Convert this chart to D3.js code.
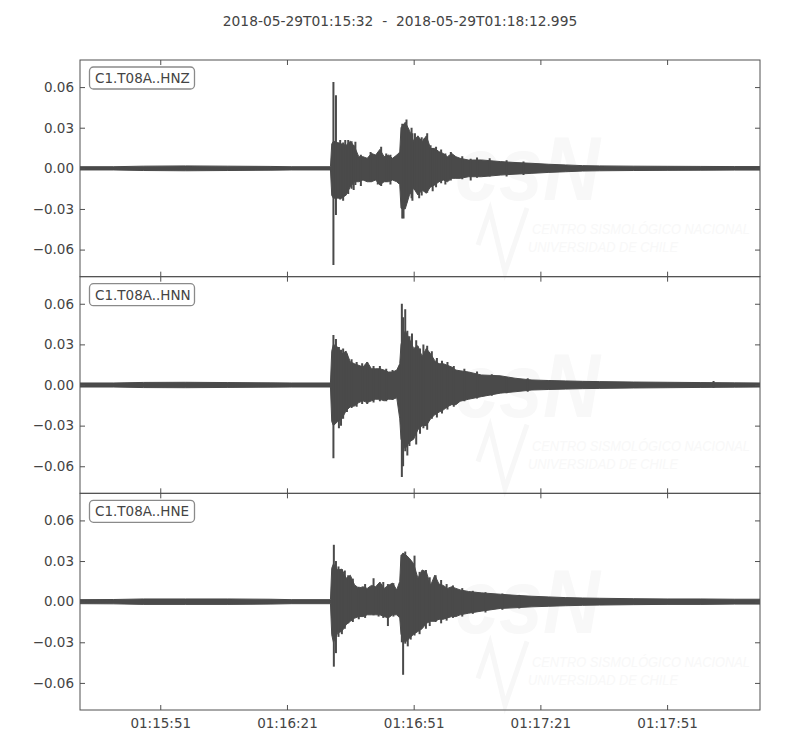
<!DOCTYPE html>
<html><head><meta charset="utf-8">
<script src="https://cdn.jsdelivr.net/npm/d3@7"></script>
<style>body{margin:0;background:#fff} svg{display:block} text{font-family:"DejaVu Sans",sans-serif}</style>
</head><body><svg id="c" width="800" height="750"></svg>
<script>
// ---------------- data ----------------
const titleText = "2018-05-29T01:15:32  -  2018-05-29T01:18:12.995";
const startClock = "01:15:32";
const durationSec = 160.995;
const channels = ["C1.T08A..HNZ", "C1.T08A..HNN", "C1.T08A..HNE"];
const yTicks = [-0.06, -0.03, 0, 0.03, 0.06];
const xTickLabels = ["01:15:51", "01:16:21", "01:16:51", "01:17:21", "01:17:51"];

// seconds after start (envelope sample times)
const times = [0, 8, 15, 25, 35, 45, 50,
  59.3, 59.6,
  60, 61, 62, 63, 64, 65, 66, 67, 68, 69, 70, 71, 72, 73, 74, 75,
  75.7,
  76, 77, 78, 79, 80, 81, 82, 83, 84, 85, 86, 87, 88, 89, 90,
  92, 95, 99.5, 103, 107, 111, 115, 119, 123,
  131, 139, 147, 155, 161];

const hnzUpper = [0.0012, 0.0012, 0.0016, 0.0018, 0.0016, 0.0014, 0.0012,
  0.0012, 0.018,
  0.020, 0.019, 0.018, 0.017, 0.020, 0.016, 0.0086, 0.0086, 0.0074, 0.011, 0.0098, 0.014, 0.0086, 0.0098, 0.0074, 0.0098,
  0.012,
  0.030, 0.034, 0.028, 0.020, 0.024, 0.0196, 0.024, 0.0147, 0.0147, 0.0123, 0.011, 0.0086, 0.011, 0.0086, 0.0074,
  0.0061, 0.0062, 0.005, 0.0043, 0.0037, 0.003, 0.0025, 0.002, 0.0018,
  0.0016, 0.0015, 0.0014, 0.0013, 0.0013];
const hnzLower = [-0.0012, -0.0012, -0.0016, -0.0018, -0.0016, -0.0014, -0.0012,
  -0.0012, -0.020,
  -0.022, -0.022, -0.022, -0.0197, -0.0136, -0.0099, -0.0099, -0.0086, -0.0099, -0.0099, -0.0086, -0.0123, -0.0099, -0.0099, -0.0086, -0.0099,
  -0.012,
  -0.0295, -0.030, -0.0197, -0.0147, -0.0197, -0.016, -0.0184, -0.0136, -0.0123, -0.0099, -0.0086, -0.0099, -0.0074, -0.0074, -0.0074,
  -0.0062, -0.0062, -0.005, -0.0043, -0.0037, -0.003, -0.0025, -0.002, -0.0018,
  -0.0016, -0.0015, -0.0014, -0.0013, -0.0013];
const hnzSpikeT  = [60.0, 60.6, 61.6, 62.3, 62.8, 63.5, 64.3, 64.8, 65.2, 66.5, 68.8, 70.5, 71.3, 72.5, 73.5,
  76.3, 76.6, 77.3, 78.5, 78.7, 79.3, 80.3, 80.9, 81.5, 82.2, 83.0, 83.5, 84.3, 85.5, 86.5, 87.8, 90.5, 92.5, 94, 97, 101, 105];
const hnzSpikeHi = [0.0638, 0.054, 0.021, 0.019, 0.021, 0.021, 0.020, 0.017, 0.0196, 0.010, 0.012, 0.010, 0.016, 0.011, 0.010,
  0.033, 0.030, 0.036, 0.030, 0.026, 0.026, 0.022, 0.023, 0.022, 0.026, 0.017, 0.015, 0.016, 0.014, 0.011, 0.012, 0.009, 0.007, 0.008, 0.0075, 0.006, 0.005];
const hnzSpikeLo = [-0.0713, -0.0344, -0.023, -0.024, -0.020, -0.019, -0.015, -0.016, -0.0123, -0.013, -0.010, -0.012, -0.013, -0.010, -0.012,
  -0.037, -0.037, -0.025, -0.022, -0.024, -0.016, -0.022, -0.020, -0.017, -0.018, -0.014, -0.017, -0.014, -0.011, -0.012, -0.009, -0.008, -0.009, -0.007, -0.006, -0.006, -0.005];

const hnnUpper = [0.0015, 0.0015, 0.0019, 0.002, 0.0018, 0.0016, 0.0015,
  0.0015, 0.025,
  0.030, 0.028, 0.023, 0.025, 0.017, 0.0157, 0.0145, 0.0133, 0.017, 0.012, 0.012, 0.012, 0.011, 0.0096, 0.0096, 0.011,
  0.0157,
  0.030, 0.040, 0.034, 0.027, 0.029, 0.021, 0.027, 0.023, 0.018, 0.0157, 0.0157, 0.0145, 0.0133, 0.011, 0.0105,
  0.0096, 0.0074, 0.0068, 0.005, 0.0037, 0.0033, 0.003, 0.0027, 0.0025,
  0.0022, 0.002, 0.0018, 0.0016, 0.0015];
const hnnLower = [-0.0015, -0.0015, -0.0019, -0.002, -0.0018, -0.0016, -0.0015,
  -0.0015, -0.027,
  -0.030, -0.027, -0.025, -0.019, -0.016, -0.0155, -0.013, -0.0117, -0.013, -0.0117, -0.0105, -0.0105, -0.0117, -0.0105, -0.0105, -0.0095,
  -0.025,
  -0.040, -0.047, -0.042, -0.040, -0.033, -0.030, -0.030, -0.025, -0.022, -0.020, -0.0185, -0.016, -0.0145, -0.0145, -0.012,
  -0.0105, -0.0086, -0.006, -0.005, -0.0037, -0.0033, -0.003, -0.0027, -0.0025,
  -0.0022, -0.002, -0.0018, -0.0016, -0.0015];
const hnnSpikeT  = [60.0, 60.6, 61.3, 61.8, 62.3, 63.2, 64.3, 65.5, 66.8, 68.0, 69.5, 71.0, 72.5, 74.0,
  76.2, 76.5, 77.0, 77.5, 78.0, 78.6, 79.6, 80.5, 81.3, 82.2, 83.3, 84.5, 85.7, 87.0, 88.5, 91, 94, 97.5, 101, 106, 150];
const hnnSpikeHi = [0.037, 0.034, 0.028, 0.026, 0.027, 0.023, 0.019, 0.017, 0.016, 0.017, 0.014, 0.014, 0.012, 0.011,
  0.060, 0.050, 0.056, 0.040, 0.036, 0.038, 0.033, 0.027, 0.030, 0.029, 0.025, 0.020, 0.018, 0.017, 0.014, 0.012, 0.010, 0.008, 0.006, 0.005, 0.003];
const hnnSpikeLo = [-0.054, -0.027, -0.032, -0.030, -0.025, -0.020, -0.017, -0.016, -0.014, -0.014, -0.013, -0.012, -0.012, -0.011,
  -0.068, -0.060, -0.049, -0.052, -0.045, -0.040, -0.044, -0.036, -0.032, -0.033, -0.025, -0.024, -0.021, -0.018, -0.016, -0.012, -0.010, -0.008, -0.006, -0.005, -0.002];

const hneUpper = [0.0015, 0.0016, 0.002, 0.002, 0.002, 0.0018, 0.0015,
  0.0015, 0.0247,
  0.028, 0.0234, 0.024, 0.0173, 0.0195, 0.0124, 0.010, 0.011, 0.0098, 0.012, 0.011, 0.0145, 0.0098, 0.012, 0.0137, 0.0087,
  0.015,
  0.0345, 0.035, 0.032, 0.028, 0.0173, 0.0234, 0.022, 0.012, 0.0195, 0.013, 0.012, 0.0098, 0.011, 0.0098, 0.0087,
  0.0075, 0.0065, 0.0055, 0.0047, 0.004, 0.0035, 0.003, 0.0027, 0.0025,
  0.0022, 0.002, 0.002, 0.0018, 0.0018];
const hneLower = [-0.0015, -0.0016, -0.002, -0.002, -0.002, -0.0018, -0.0015,
  -0.0015, -0.0245,
  -0.030, -0.023, -0.022, -0.017, -0.0145, -0.0122, -0.011, -0.011, -0.0097, -0.0097, -0.0097, -0.0097, -0.011, -0.012, -0.0097, -0.0097,
  -0.012,
  -0.024, -0.030, -0.027, -0.024, -0.022, -0.020, -0.016, -0.0145, -0.0145, -0.013, -0.013, -0.012, -0.011, -0.011, -0.0097,
  -0.0085, -0.007, -0.005, -0.0045, -0.0038, -0.0034, -0.003, -0.0027, -0.0025,
  -0.0022, -0.002, -0.002, -0.0018, -0.0018];
const hneSpikeT  = [60.1, 60.6, 61.2, 62.0, 62.7, 63.5, 64.6, 66.0, 67.5, 69.5, 70.7, 71.8, 72.9, 74.2,
  76.2, 76.5, 77.0, 77.6, 78.3, 79.2, 80.4, 81.9, 82.8, 84.2, 85.5, 86.8, 88.3, 90.5, 93, 96, 100, 104];
const hneSpikeHi = [0.042, 0.030, 0.026, 0.024, 0.023, 0.0195, 0.017, 0.011, 0.013, 0.0173, 0.013, 0.0145, 0.013, 0.0137,
  0.033, 0.036, 0.037, 0.031, 0.030, 0.034, 0.022, 0.0234, 0.018, 0.0195, 0.016, 0.013, 0.012, 0.010, 0.008, 0.007, 0.006, 0.005];
const hneSpikeLo = [-0.048, -0.038, -0.026, -0.024, -0.020, -0.016, -0.015, -0.013, -0.012, -0.010, -0.011, -0.012, -0.018, -0.011,
  -0.030, -0.054, -0.031, -0.033, -0.028, -0.025, -0.024, -0.020, -0.018, -0.015, -0.016, -0.014, -0.012, -0.011, -0.009, -0.008, -0.006, -0.005];

const watermarkLines = ["CENTRO SISMOLÓGICO NACIONAL", "UNIVERSIDAD DE CHILE"];

// ---------------- drawing ----------------
const series = [
  {up: hnzUpper, lo: hnzLower, st: hnzSpikeT, sh: hnzSpikeHi, sl: hnzSpikeLo},
  {up: hnnUpper, lo: hnnLower, st: hnnSpikeT, sh: hnnSpikeHi, sl: hnnSpikeLo},
  {up: hneUpper, lo: hneLower, st: hneSpikeT, sh: hneSpikeHi, sl: hneSpikeLo}
];
const toSec = s => { const p = s.split(":").map(Number); return p[0]*3600 + p[1]*60 + p[2]; };
const t0 = toSec(startClock);

const svg = d3.select("#c");
const L = 80, R = 760, T = 60, B = 710;
const ph = (B - T) / channels.length;
const frame = "#505050", wave = "#4a4a4a", txt = "#444444";

const x = d3.scaleLinear().domain([0, durationSec]).range([L, R]);
const xTickVals = xTickLabels.map(s => toSec(s) - t0);

svg.append("text").attr("x", 400).attr("y", 26).attr("text-anchor", "middle")
  .style("white-space", "pre").attr("font-size", 13.8).attr("fill", txt).text(titleText);

const defs = svg.append("defs");

channels.forEach((name, i) => {
  const top = T + i * ph, bot = top + ph;
  const y = d3.scaleLinear().domain([-0.08, 0.08]).range([bot, top]);
  const s = series[i];
  const g = svg.append("g");

  defs.append("clipPath").attr("id", "clip" + i)
    .append("rect").attr("x", L).attr("y", top).attr("width", R - L).attr("height", ph);

  // very faint watermark
  const wm = g.append("g").attr("fill", "#f8f8f8").attr("stroke", "none");
  wm.append("text").attr("x", 455).attr("y", top + 140).attr("font-size", 90)
    .attr("font-style", "italic").attr("font-weight", "bold")
    .style("font-family", "'Liberation Sans', sans-serif")
    .attr("textLength", 145).attr("lengthAdjust", "spacingAndGlyphs").text("csN");
  wm.append("path")
    .attr("d", d3.line()([[478, top + 185], [490, top + 150], [505, top + 212], [527, top + 148]]))
    .attr("fill", "none").attr("stroke", "#f7f7f7").attr("stroke-width", 5);
  watermarkLines.forEach((w, k) => {
    wm.append("text").attr("x", k === 0 ? 532 : 528).attr("y", top + 174 + k * 18)
      .attr("font-size", 15).attr("font-style", "italic")
      .style("font-family", "'Liberation Sans Narrow', 'Liberation Sans', sans-serif")
      .attr("textLength", k === 0 ? 218 : 150).attr("lengthAdjust", "spacingAndGlyphs").text(w);
  });

  const pg = g.append("g").attr("clip-path", `url(#clip${i})`);

  // waveform envelope
  const area = d3.area()
    .x(j => x(times[j])).y0(j => y(s.lo[j])).y1(j => y(s.up[j]));
  pg.append("path").attr("d", area(d3.range(times.length)))
    .attr("fill", wave).attr("stroke", wave).attr("stroke-width", 1).attr("stroke-linejoin", "round");

  pg.selectAll("line.spike").data(d3.range(s.st.length)).join("line")
    .attr("class", "spike")
    .attr("x1", j => x(s.st[j])).attr("x2", j => x(s.st[j]))
    .attr("y1", j => y(s.sh[j])).attr("y2", j => y(s.sl[j]))
    .attr("stroke", wave).attr("stroke-width", 2);

  // axes (inward ticks on all sides)
  const left = g.append("g").attr("transform", `translate(${L},0)`)
    .call(d3.axisLeft(y).tickValues(yTicks).tickSize(-5).tickPadding(6).tickFormat(d3.format(".2f")));
  const right = g.append("g").attr("transform", `translate(${R},0)`)
    .call(d3.axisRight(y).tickValues(yTicks).tickSize(-5).tickFormat(""));
  const bottom = g.append("g").attr("transform", `translate(0,${bot})`)
    .call(d3.axisBottom(x).tickValues(xTickVals).tickSize(-5).tickPadding(8)
      .tickFormat((d, k) => i === channels.length - 1 ? xTickLabels[k] : ""));
  const topAx = g.append("g").attr("transform", `translate(0,${top})`)
    .call(d3.axisTop(x).tickValues(xTickVals).tickSize(-5).tickFormat(""));
  [left, right, bottom, topAx].forEach(a => {
    a.select(".domain").remove();
    a.selectAll(".tick line").attr("stroke", frame);
    a.selectAll(".tick text").attr("fill", txt).attr("font-size", 13.5)
      .style("font-family", "'DejaVu Sans', sans-serif");
  });

  g.append("rect").attr("x", L).attr("y", top).attr("width", R - L).attr("height", ph)
    .attr("fill", "none").attr("stroke", frame).attr("stroke-width", 1);

  // channel label box
  g.append("rect").attr("x", 89.5).attr("y", top + 7).attr("width", 105).attr("height", 22)
    .attr("rx", 4).attr("fill", "#fff").attr("stroke", "#8a8a8a").attr("stroke-width", 1.3);
  g.append("text").attr("x", 95).attr("y", top + 23).attr("font-size", 13.5)
    .attr("fill", txt).text(name);
});
</script></body></html>
